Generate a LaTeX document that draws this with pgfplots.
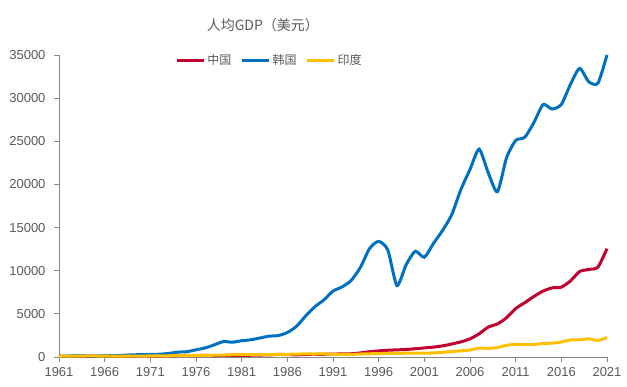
\documentclass[border=0pt]{standalone}
\usepackage{pgfplots}
\pgfplotsset{compat=1.18}
\usepackage{pgfplotstable}
\usepackage{fontspec}
\setmainfont{Liberation Sans}
\newfontfamily\cjk{Noto Sans CJK SC}
\definecolor{cnred}{RGB}{192,0,48}
\definecolor{krblue}{RGB}{0,112,192}
\definecolor{inyel}{RGB}{255,192,0}
\definecolor{txtgray}{RGB}{89,89,89}
\definecolor{axgray}{RGB}{134,134,134}
\pgfplotstableread{
year cn kr in
1961 76 94 86
1962 70 106 91
1963 74 146 101
1964 85 124 116
1965 98 109 119
1966 104 133 90
1967 97 161 96
1968 91 199 99
1969 100 243 107
1970 113 279 112
1971 119 301 118
1972 132 324 122
1973 157 406 143
1974 160 563 163
1975 178 617 158
1976 165 834 161
1977 185 1055 186
1978 156 1405 206
1979 184 1784 224
1980 195 1715 267
1981 197 1883 271
1982 203 1993 275
1983 225 2199 292
1984 251 2413 277
1985 294 2482 297
1986 282 2835 310
1987 252 3555 340
1988 284 4749 354
1989 311 5817 346
1990 318 6610 368
1991 333 7637 303
1992 366 8127 317
1993 377 8885 301
1994 473 10385 346
1995 610 12565 374
1996 709 13403 400
1997 782 12398 415
1998 829 8282 413
1999 873 10672 442
2000 959 12257 443
2001 1053 11561 452
2002 1149 13165 471
2003 1289 14673 546
2004 1509 16496 627
2005 1753 19403 714
2006 2099 21743 807
2007 2694 24086 1028
2008 3468 21350 999
2009 3832 19144 1102
2010 4550 23087 1358
2011 5614 25096 1458
2012 6301 25467 1444
2013 7020 27182 1450
2014 7636 29250 1574
2015 8016 28737 1606
2016 8094 29274 1733
2017 8817 31601 1981
2018 9905 33447 1998
2019 10144 31902 2101
2020 10409 31721 1914
2021 12556 34998 2257
}\gdp
\begin{document}
\begin{tikzpicture}[x=1pt,y=1pt]
\useasboundingbox (-59,-29) rectangle (568,357);
\begin{axis}[
  at={(0,0)}, anchor=south west,
  scale only axis, width=548pt, height=302pt,
  xmin=1961, xmax=2021, ymin=0, ymax=35000,
  xtick={1961,1966,...,2021},
  ytick={0,5000,...,35000},
  scaled y ticks=false,
  /pgf/number format/assume math mode=true,
  /pgf/number format/set thousands separator={},
  axis lines*=left,
  axis line style={axgray, line width=0.9pt},
  tick style={axgray, line width=0.9pt},
  tick align=outside,
  major tick length=5pt,
  ticklabel style={font=\fontsize{13}{15}\selectfont, text=txtgray},
  xticklabel style={yshift=-2pt},
  yticklabel style={xshift=-5pt},
  clip=false,
  legend style={draw=none, fill=none, at={(rel axis cs:0.384,0.983)}, anchor=center,
    font=\cjk\fontsize{12}{14}\selectfont, text=txtgray,
    /tikz/every even column/.append style={column sep=7pt}},
  legend columns=3,
  legend image code/.code={\draw[#1, line width=3.2pt] (0pt,0pt) -- (27pt,0pt);},
]
\addplot[cnred, line width=3pt, smooth, tension=0.4] table[x=year,y=cn] {\gdp};
\addlegendentry{中国}
\addplot[krblue, line width=3pt, smooth, tension=0.4] table[x=year,y=kr] {\gdp};
\addlegendentry{韩国}
\addplot[inyel, line width=3pt, smooth, tension=0.4] table[x=year,y=in] {\gdp};
\addlegendentry{印度}
\node[font=\cjk\fontsize{14}{16}\selectfont, text=txtgray] at (rel axis cs:0.372,1.1) {人均GDP（美元）};
\end{axis}
\end{tikzpicture}
\end{document}
